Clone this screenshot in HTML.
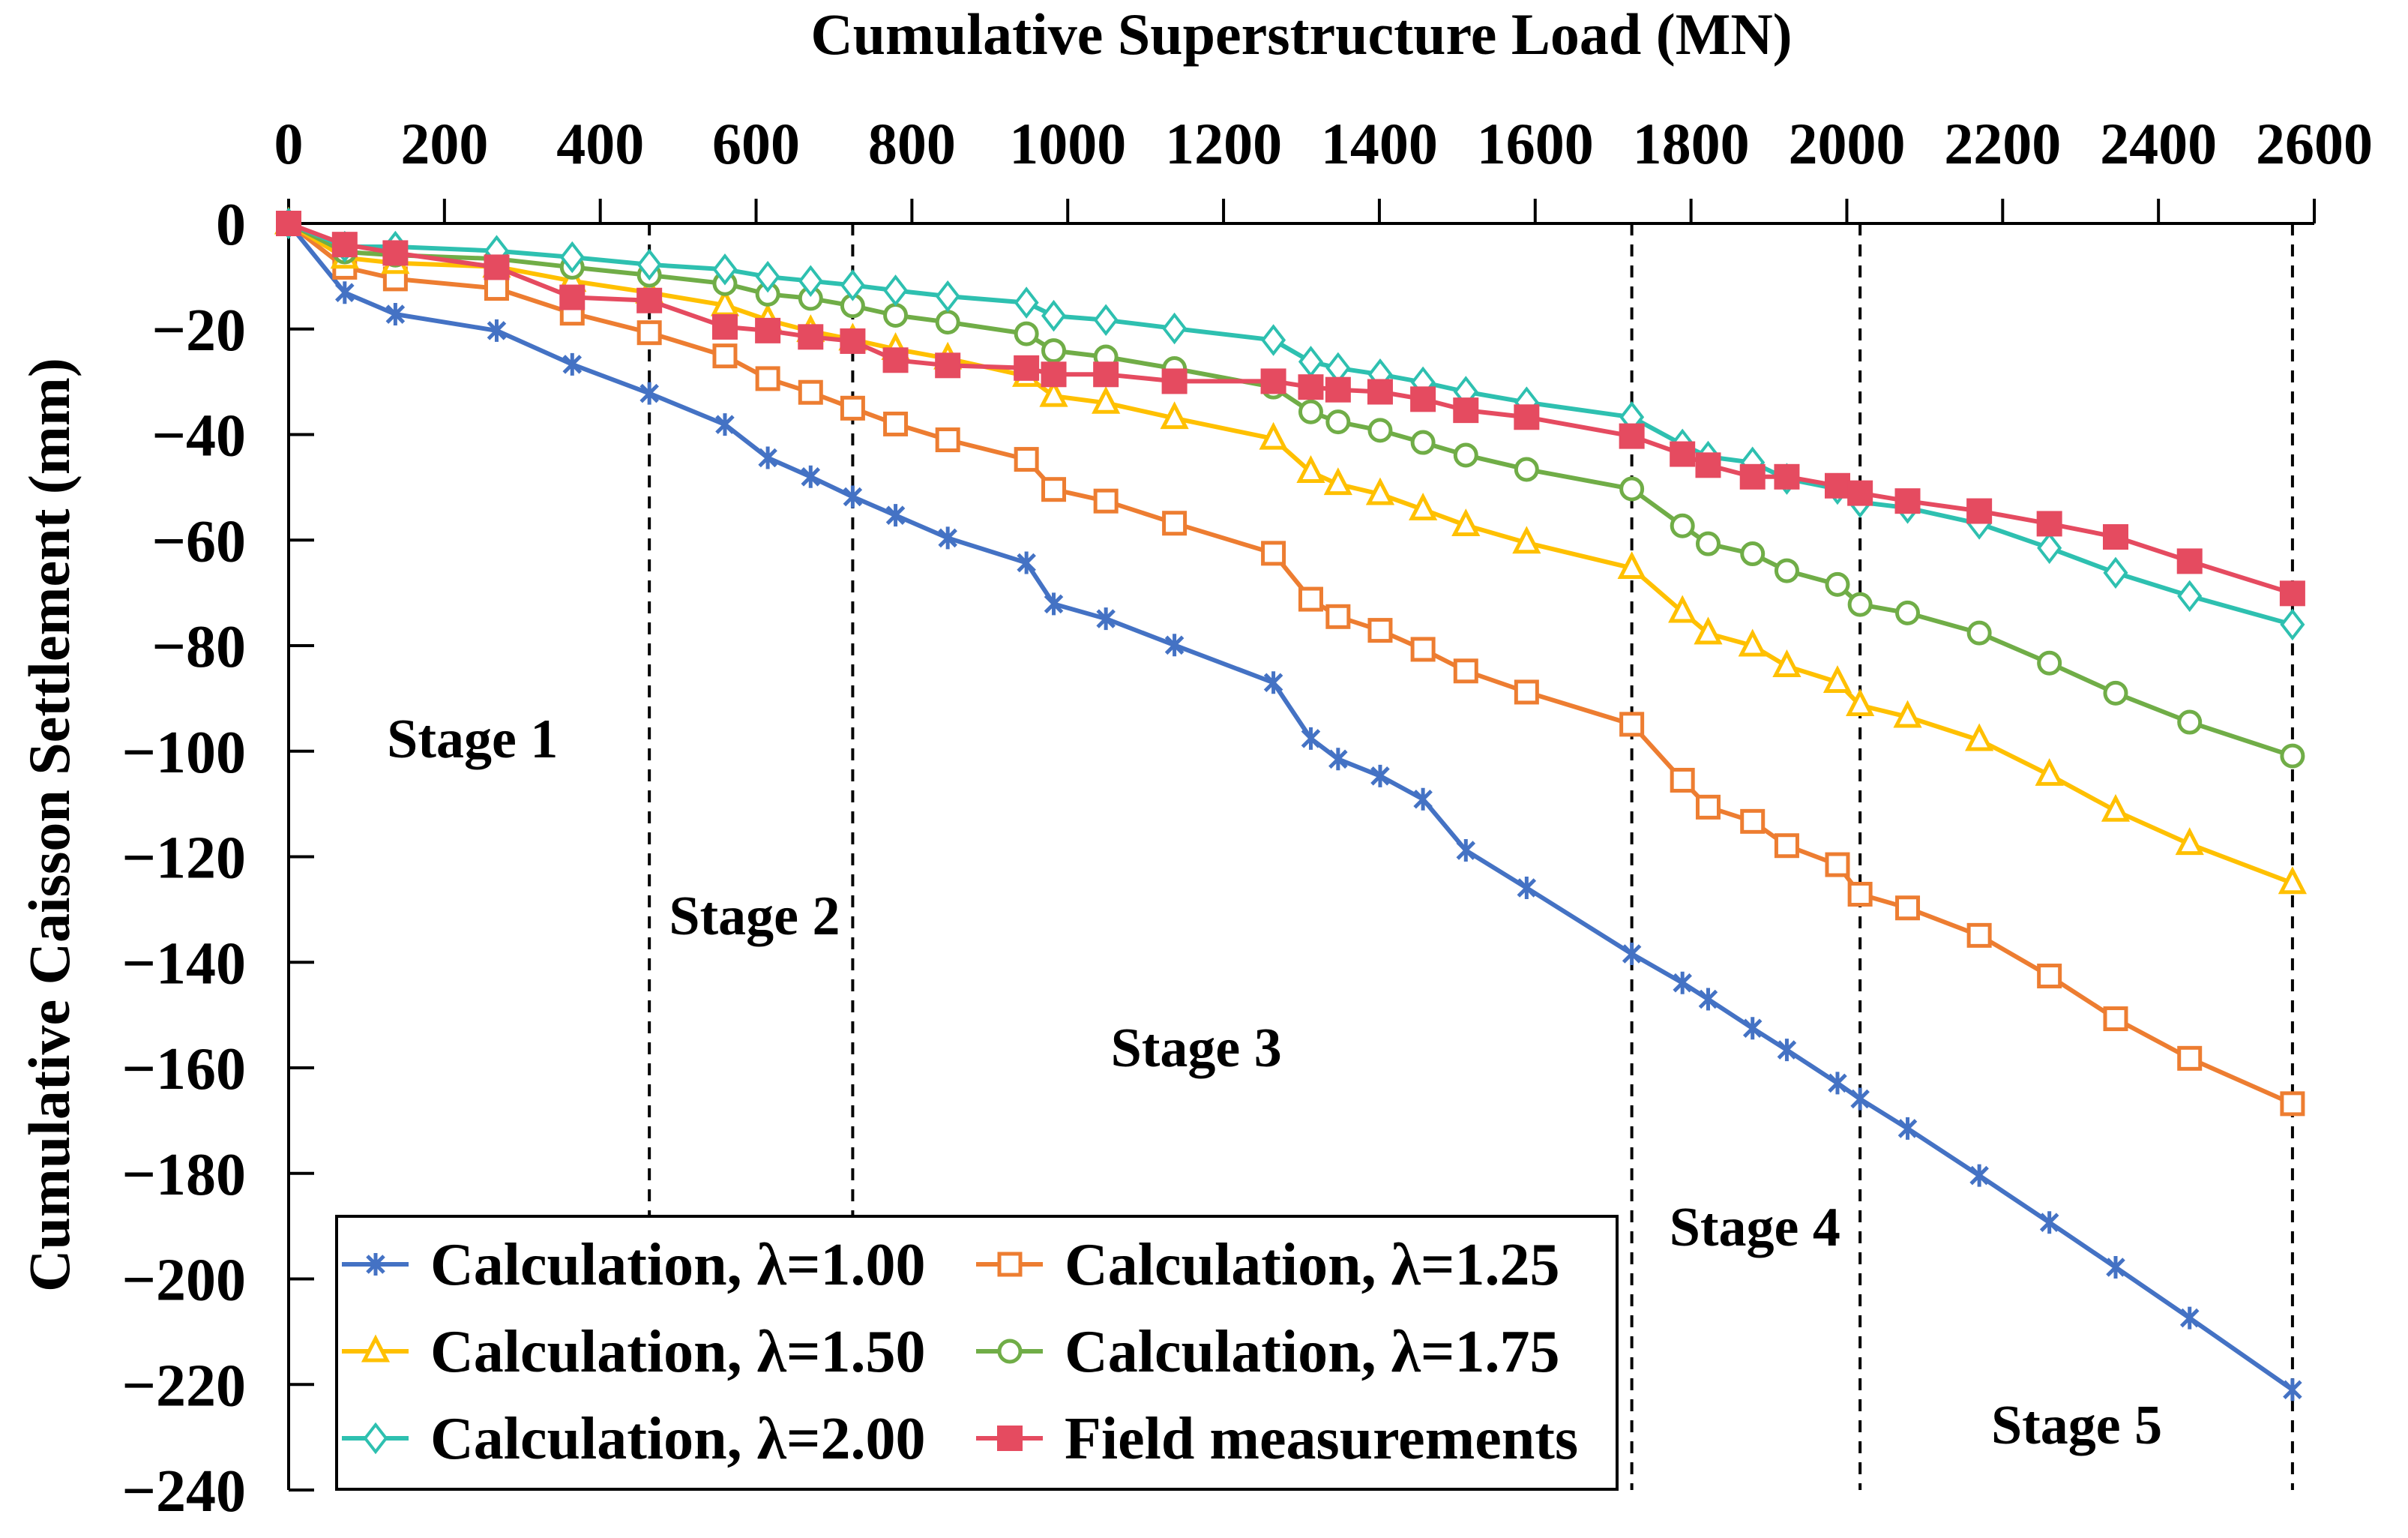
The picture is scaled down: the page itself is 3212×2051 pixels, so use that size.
<!DOCTYPE html>
<html><head><meta charset="utf-8"><style>
html,body{margin:0;padding:0;background:#fff}
svg{display:block}
svg text{font-family:"Liberation Serif","Times New Roman",serif;font-weight:bold;fill:#000}
</style></head><body>
<svg id="chart" width="3212" height="2051" viewBox="0 0 3212 2051" xmlns="http://www.w3.org/2000/svg" font-family="Liberation Serif, serif" font-weight="bold">
<rect width="3212" height="2051" fill="#fff"/>
<text x="1736" y="72" font-size="78" text-anchor="middle">Cumulative Superstructure Load (MN)</text>
<text transform="translate(92,1100) rotate(-90)" font-size="78" text-anchor="middle">Cumulative Caisson Settlement (mm)</text>
<g id="axes"></g>
<g id="stages"></g>
<g id="series"></g>
<g id="legend"></g>
</svg>
<script>
const loads = [0,72,137,267,364,463,560,615,670,724,779,846,947,982,1049,1137,1264,1312,1347,1401,1456,1511,1589,1724,1789,1822,1879,1923,1988,2017,2078,2170,2260,2345,2440,2572];
const calc100 = [0,-13.1,-17.2,-20.3,-26.7,-32.2,-38.1,-44.4,-48.0,-51.8,-55.3,-59.6,-64.3,-72.1,-74.9,-79.9,-87.0,-97.6,-101.5,-104.7,-109.1,-118.8,-125.9,-138.4,-143.9,-147.0,-152.5,-156.6,-162.9,-165.9,-171.5,-180.4,-189.3,-197.8,-207.4,-221.0];
const calc125 = [0,-8.3,-10.5,-12.3,-17.0,-20.7,-25.1,-29.4,-32.0,-35.0,-38.0,-41.0,-44.7,-50.4,-52.6,-56.8,-62.5,-71.2,-74.5,-77.1,-80.7,-84.8,-88.8,-94.9,-105.5,-110.6,-113.3,-117.9,-121.5,-127.1,-129.7,-134.9,-142.6,-150.7,-158.2,-166.8];
const calc150 = [0,-6.5,-7.5,-8.2,-10.9,-13.1,-15.5,-18.3,-20.4,-22.0,-23.8,-25.6,-28.9,-32.7,-34.0,-36.9,-40.8,-47.1,-49.4,-51.3,-54.2,-57.2,-60.5,-65.3,-73.6,-77.7,-80.0,-83.9,-86.9,-91.3,-93.5,-97.9,-104.5,-111.3,-117.6,-125.0];
const calc175 = [0,-5.4,-6.0,-6.7,-8.3,-9.8,-11.4,-13.4,-14.2,-15.6,-17.4,-18.7,-20.9,-24.1,-25.3,-27.5,-31.0,-35.7,-37.6,-39.2,-41.5,-43.9,-46.6,-50.3,-57.3,-60.7,-62.6,-65.8,-68.4,-72.2,-73.8,-77.6,-83.3,-89.0,-94.5,-100.9];
const calc200 = [0,-4.4,-4.4,-5.2,-6.4,-7.8,-8.7,-10.1,-10.9,-11.7,-12.7,-13.8,-15.0,-17.5,-18.3,-19.9,-22.1,-26.2,-27.4,-28.6,-30.1,-31.9,-33.9,-36.7,-41.9,-44.2,-45.3,-48.4,-50.3,-52.8,-53.9,-56.9,-61.5,-66.2,-70.6,-76.0];
const field = [0,-4.0,-5.6,-8.3,-14.0,-14.6,-19.6,-20.3,-21.5,-22.3,-25.9,-26.9,-27.4,-28.6,-28.6,-29.9,-29.9,-31.0,-31.5,-31.9,-33.3,-35.4,-36.7,-40.3,-43.7,-45.8,-48.0,-48.0,-49.7,-51.1,-52.6,-54.5,-56.9,-59.4,-64.0,-70.1];
const xTicks = [0,200,400,600,800,1000,1200,1400,1600,1800,2000,2200,2400,2600];
const yTicks = [0,-20,-40,-60,-80,-100,-120,-140,-160,-180,-200,-220,-240];
const stageBounds = [463,724,1724,2017,2572];
const stageNames = ["Stage 1","Stage 2","Stage 3","Stage 4","Stage 5"];
const stageLabelX = [236,598,1165,1882,2295];
const stageLabelY = [-97.5,-131,-156,-190,-227.5];

const NS="http://www.w3.org/2000/svg";
const X0=385,X1=3087,Y0=298,Y1=1987;
function xs(v){return X0+(v-0)/(2600-0)*(X1-X0);}
function ys(v){return Y0+(0-v)/(240)*(Y1-Y0);}
function mk(tag,attrs,parent){const e=document.createElementNS(NS,tag);for(const k in attrs)e.setAttribute(k,attrs[k]);parent.appendChild(e);return e;}

const axes=document.getElementById('axes');
let l=mk('line',{x1:X0,y1:Y0,x2:X1,y2:Y0,stroke:'#000','stroke-width':4},axes);


l=mk('line',{x1:X0,y1:Y0-33,x2:X0,y2:Y1,stroke:'#000','stroke-width':4},axes);


xTicks.forEach(t=>{
  const tk=mk('line',{x1:xs(t),y1:Y0,x2:xs(t),y2:Y0-33,stroke:'#000','stroke-width':4},axes);
  
  
  const tx=mk('text',{x:xs(t),y:218,'font-size':78,'text-anchor':'middle'},axes);
  tx.textContent=t;
  
  
});
yTicks.forEach(t=>{
  const tk=mk('line',{x1:X0,y1:ys(t),x2:X0+34,y2:ys(t),stroke:'#000','stroke-width':4},axes);
  
  
  const tx=mk('text',{x:328,y:ys(t)+28,'font-size':80,'text-anchor':'end'},axes);
  tx.textContent=t===0?'0':'\u2212'+Math.abs(t);
  
  
});

const stages=document.getElementById('stages');
stageBounds.forEach(b=>{
  const d=mk('line',{x1:xs(b),y1:Y0,x2:xs(b),y2:Y1,stroke:'#000','stroke-width':4,'stroke-dasharray':'16 12'},stages);
  
  
});
stageNames.forEach((n,i)=>{
  const t=mk('text',{x:xs(stageLabelX[i]),y:ys(stageLabelY[i])+26,'font-size':74,'text-anchor':'middle'},stages);
  t.textContent=n;
  
  
});

function marker(g,type,cx,cy,color){
  let e;
  if(type==='x'){
    e=mk('path',{d:`M${cx-11} ${cy-11}L${cx+11} ${cy+11}M${cx-11} ${cy+11}L${cx+11} ${cy-11}M${cx} ${cy-15}L${cx} ${cy+15}`,stroke:color,'stroke-width':5,fill:'none'},g);
  }else if(type==='sq'){
    e=mk('rect',{x:cx-14,y:cy-14,width:28,height:28,fill:'#fff',stroke:color,'stroke-width':5},g);
  }else if(type==='tri'){
    e=mk('path',{d:`M${cx} ${cy-17}L${cx+15} ${cy+12}L${cx-15} ${cy+12}Z`,fill:'#fff',stroke:color,'stroke-width':5},g);
  }else if(type==='circ'){
    e=mk('circle',{cx:cx,cy:cy,r:14,fill:'#fff',stroke:color,'stroke-width':5},g);
  }else if(type==='dia'){
    e=mk('path',{d:`M${cx} ${cy-18}L${cx+14} ${cy}L${cx} ${cy+18}L${cx-14} ${cy}Z`,fill:'#fff',stroke:color,'stroke-width':4},g);
  }else{
    e=mk('rect',{x:cx-17,y:cy-17,width:34,height:34,fill:color},g);
  }
  return e;
}
const seriesDefs=[
  {vals:calc100,color:'#4472C4',m:'x',name:'series-lambda-1-00',label:'Calculation, \u03bb=1.00'},
  {vals:calc125,color:'#ED7D31',m:'sq',name:'series-lambda-1-25',label:'Calculation, \u03bb=1.25'},
  {vals:calc150,color:'#FFC000',m:'tri',name:'series-lambda-1-50',label:'Calculation, \u03bb=1.50'},
  {vals:calc175,color:'#70AD47',m:'circ',name:'series-lambda-1-75',label:'Calculation, \u03bb=1.75'},
  {vals:calc200,color:'#2EC0B0',m:'dia',name:'series-lambda-2-00',label:'Calculation, \u03bb=2.00'},
  {vals:field,color:'#E54B60',m:'fsq',name:'series-field-measurements',label:'Field measurements'}
];
const sg=document.getElementById('series');
seriesDefs.forEach(s=>{
  const g=mk('g',{},sg);
  
  
  const pts=s.vals.map((v,i)=>xs(loads[i]).toFixed(1)+','+ys(v).toFixed(1)).join(' ');
  const pl=mk('polyline',{points:pts,fill:'none',stroke:s.color,'stroke-width':6,'stroke-linejoin':'round'},g);
  
  
  s.vals.forEach((v,i)=>{
    const m=marker(g,s.m,xs(loads[i]),ys(v),s.color);
    
    
  });
});

const lg=document.getElementById('legend');
const box=mk('rect',{x:449,y:1622,width:1708,height:364,fill:'#fff',stroke:'#000','stroke-width':4},lg);


const colX=[456,1302],rowY=[1686,1802,1918];
seriesDefs.forEach((s,i)=>{
  const cx=colX[i%2],cy=rowY[Math.floor(i/2)];
  const g=mk('g',{},lg);
  
  
  mk('line',{x1:cx,y1:cy,x2:cx+89,y2:cy,stroke:s.color,'stroke-width':6},g);
  marker(g,s.m,cx+45,cy,s.color);
  const t=mk('text',{x:cx+118,y:cy+27,'font-size':80},g);
  t.textContent=s.label;
  
  
});
</script>
</body></html>
